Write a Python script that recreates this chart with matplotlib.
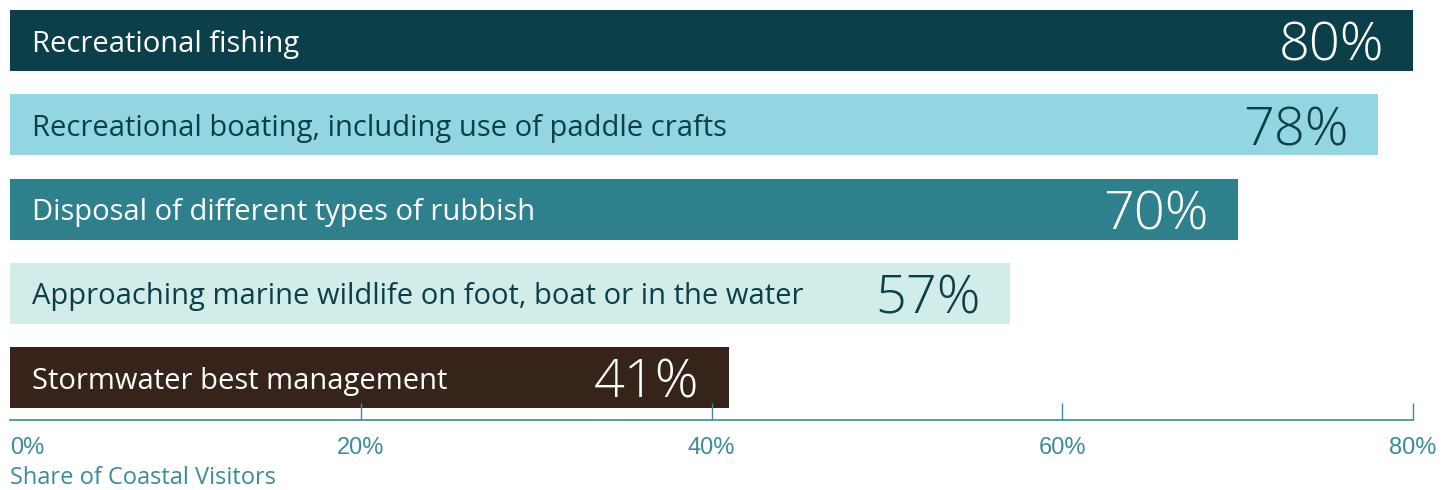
import numpy as np
import matplotlib.pyplot as plt

categories = ["Recreational fishing",
              "Recreational boating, including use of paddle crafts",
              "Disposal of different types of rubbish",
              "Approaching marine wildlife on foot, boat or in the water",
              "Stormwater best management"]
values = [80, 78, 70, 57, 41]
bar_colors = ["#0b3f49", "#93d5e0", "#2e808c", "#d2ece9", "#36231a"]
text_colors = ["white", "#0b3f49", "white", "#0b3f49", "white"]
xticks = [0, 20, 40, 60, 80]
xlabels = ["0%", "20%", "40%", "60%", "80%"]

axis_col = "#3a8c99"
plt.rcParams['font.family'] = ['Open Sans', 'DejaVu Sans']

W, H = 1453, 490
fig = plt.figure(figsize=(W / 100, H / 100), dpi=100)
ax = fig.add_axes([10 / W, (H - 420) / H, (1413 - 10) / W, 410 / H])

y = np.arange(len(values))
ax.barh(y, values, height=0.724, color=bar_colors)
for i, (cat, v) in enumerate(zip(categories, values)):
    ax.annotate(cat, (0, i), xytext=(16, 0), textcoords='offset points',
                ha='left', va='center_baseline', fontsize=21, color=text_colors[i])
    ax.annotate(f"{v}%", (v, i), xytext=(-21, 0), textcoords='offset points',
                ha='right', va='center_baseline', fontsize=39, fontweight='light',
                color=text_colors[i])

ax.set_xlim(0, 80)
ax.set_ylim(4.504, -0.362)
ax.set_yticks([])
ax.set_xticks(xticks)
ax.set_xticklabels(xlabels, family=['Liberation Sans', 'DejaVu Sans'])
for s in ['top', 'right', 'left']:
    ax.spines[s].set_visible(False)
ax.spines['bottom'].set_color(axis_col)
ax.spines['bottom'].set_linewidth(1.2)
ax.tick_params(axis='x', direction='in', length=12, width=1, color=axis_col,
               labelcolor=axis_col, labelsize=17, pad=12)
ax.get_xticklabels()[0].set_ha('left')
ax.xaxis.get_major_ticks()[0].tick1line.set_visible(False)
ax.set_axisbelow(False)

fig.text(10 / W, 1 - 478 / H, "Share of Coastal Visitors", color=axis_col,
         fontsize=17, ha='left', va='center')

fig.savefig("out.png", dpi=100)
